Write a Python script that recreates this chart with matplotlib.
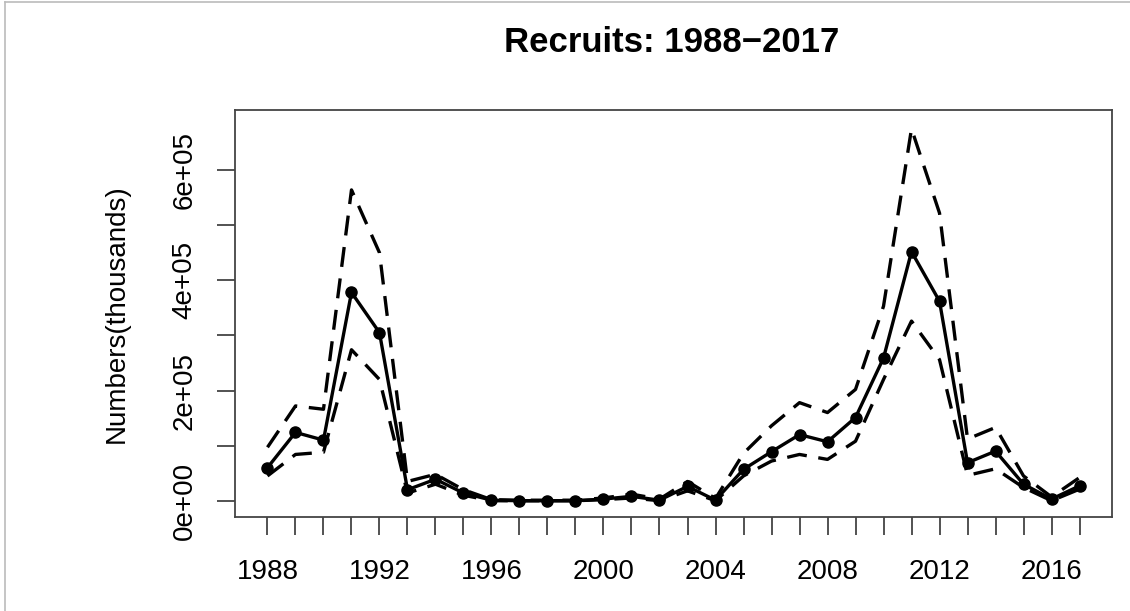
import numpy as np
import matplotlib
matplotlib.use('agg')
import matplotlib.pyplot as plt
from matplotlib.lines import Line2D

plt.rcParams.update({
    'font.family': ['Liberation Sans', 'DejaVu Sans'],
    'font.size': 20,
})

years = list(range(1988, 2018))

# estimated recruits and the upper / lower bounds (dashed)
recruits = [6.0e4, 1.24e5, 1.10e5, 3.78e5, 3.05e5, 2.0e4, 3.9e4, 1.4e4, 1e3, 0,
            0, 0, 3e3, 8e3, 1e3, 2.6e4, 1e3, 5.7e4, 8.9e4, 1.20e5,
            1.07e5, 1.51e5, 2.59e5, 4.52e5, 3.62e5, 6.9e4, 9.0e4, 3.0e4, 3e3, 2.7e4]
upper = [9.7e4, 1.72e5, 1.66e5, 5.64e5, 4.50e5, 3.5e4, 4.8e4, 2.0e4, 2e3, 1e3,
         1e3, 1e3, 5e3, 1.2e4, 3e3, 3.5e4, 4e3, 8.6e4, 1.36e5, 1.78e5,
         1.60e5, 2.02e5, 3.53e5, 6.75e5, 5.22e5, 1.12e5, 1.33e5, 4.5e4, 7e3, 4.2e4]
lower = [4.5e4, 8.4e4, 8.8e4, 2.74e5, 2.20e5, 1.4e4, 3.0e4, 1.0e4, 0, 0,
         0, 0, 2e3, 5e3, 0, 1.8e4, 0, 4.5e4, 7.2e4, 8.4e4,
         7.5e4, 1.08e5, 2.20e5, 3.26e5, 2.56e5, 4.6e4, 5.8e4, 2.4e4, 0, 2.1e4]

yticks = [0, 1e5, 2e5, 3e5, 4e5, 5e5, 6e5]
ytick_labels = ['0e+00', '', '2e+05', '', '4e+05', '', '6e+05']
xtick_labels = [str(y) if (y - 1988) % 4 == 0 else '' for y in years]

fig = plt.figure(figsize=(11.3, 6.11), dpi=100)
ax = fig.add_axes([235/1130, 1-517/611, (1112-235)/1130, (517-110)/611])

ax.plot(years, upper, 'k', ls=(0, (6, 3.5)), lw=2.4)
ax.plot(years, lower, 'k', ls=(0, (6, 3.5)), lw=2.4)
ax.plot(years, recruits, 'k-', lw=2.4, marker='o', ms=8)

ax.set_xlim(1986.84, 2018.16)
ax.set_ylim(-2.95e4, 7.09e5)
ax.set_xticks(years)
ax.set_xticklabels(xtick_labels)
ax.set_yticks(yticks)
ax.set_yticklabels(ytick_labels, rotation=90, va='center')
ax.tick_params(length=13, width=1.3, color='#444444')
ax.tick_params(axis='x', pad=17)
ax.tick_params(axis='y', pad=14)
for s in ax.spines.values():
    s.set_color('#444444')
    s.set_linewidth(1.3)

ax.set_ylabel('Numbers(thousands)', labelpad=30)
fig.text(672/1130, 1-42/611, 'Recruits: 1988\u22122017', ha='center', va='center',
         fontsize=25, fontweight='bold')

# light border at top and left of the image
fig.add_artist(Line2D([0.004, 1], [0.996, 0.996], color='#bbbbbb', lw=1.2))
fig.add_artist(Line2D([0.004, 0.004], [0, 0.996], color='#bbbbbb', lw=1.2))

fig.savefig('out.png', dpi=100)
